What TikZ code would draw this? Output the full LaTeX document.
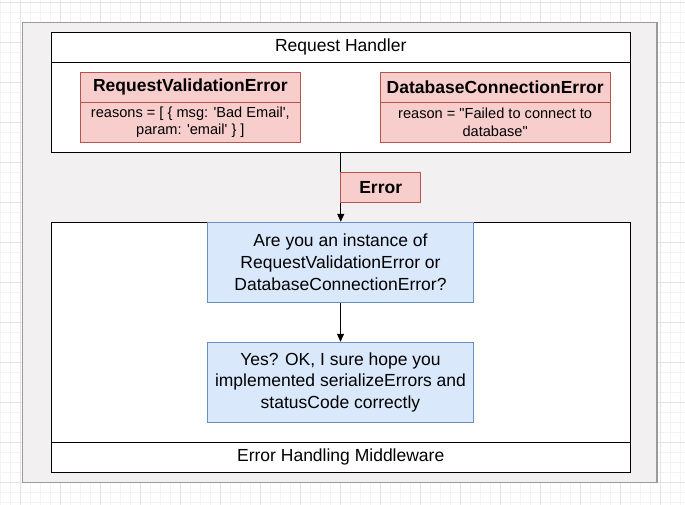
\documentclass[tikz,border=0pt]{standalone}
\usepackage{fontspec}
\setmainfont{Liberation Sans}[Ligatures=TeXOff]
\usetikzlibrary{arrows.meta}
\definecolor{redfill}{HTML}{F8CECC}
\definecolor{redline}{HTML}{B85450}
\definecolor{bluefill}{HTML}{DAE8FC}
\definecolor{blueline}{HTML}{6C8EBF}
\definecolor{panelfill}{HTML}{F2F0F1}
\definecolor{panelline}{HTML}{9B9B9B}
\definecolor{gridminor}{HTML}{F3F3F3}
\definecolor{gridmajor}{HTML}{E3E3E3}
\tikzset{
  whitebox/.style={draw=black, line width=1pt, fill=white, inner sep=0pt,
    minimum width=579.5pt, font=\fontsize{17.5}{21}\selectfont},
  redhead/.style={draw=redline, fill=redfill, line width=1pt, inner sep=0pt,
    minimum height=30pt, font=\bfseries\fontsize{17.5}{21}\selectfont},
  redbody/.style={draw=redline, fill=redfill, line width=1pt, inner sep=0pt,
    minimum height=40pt, align=center, font=\fontsize{14.6}{17.7}\selectfont},
  bluebox/.style={draw=blueline, fill=bluefill, line width=1pt, inner sep=0pt,
    minimum width=265.6pt, minimum height=80pt, align=center,
    font=\fontsize{17.5}{21.7}\selectfont},
  errlabel/.style={draw=redline, fill=redfill, line width=1pt, inner sep=0pt,
    minimum width=80pt, minimum height=30pt, font=\bfseries\fontsize{17.5}{21}\selectfont},
  flow/.style={draw=black, line width=1pt, -{Triangle[length=8pt,width=7pt]}}
}
\begin{document}
\begin{tikzpicture}[x=1pt,y=-1pt]
\useasboundingbox (0,0) rectangle (685,505);
\fill[white] (0,0) rectangle (685,505);
% grid
\foreach \x in {0,10,...,680} \draw[gridminor, line width=0.7pt] (\x,0) -- (\x,505);
\foreach \y in {2,12,...,502} \draw[gridminor, line width=0.7pt] (0,\y) -- (685,\y);
\foreach \x in {20,60,...,660} \draw[gridmajor, line width=0.8pt] (\x,0) -- (\x,505);
\foreach \y in {2,42,...,482} \draw[gridmajor, line width=0.8pt] (0,\y) -- (685,\y);
% panel
\draw[panelline, line width=1.5pt, fill=panelfill] (22.7,22.7) rectangle (657,482.3);
% request handler
\node[whitebox, minimum height=30pt] (rhhead) at (340.75,47.3) {Request Handler};
\node[whitebox, minimum height=90pt] (rhbody) at (340.75,107.3) {};
% red error classes
\node[redhead, minimum width=220.1pt] (rvhead) at (190.35,87.3) {RequestValidationError};
\node[redbody, minimum width=220.1pt] (rvbody) at (190.35,122.3) {reasons = [ \{ msg: 'Bad Email',\\ param: 'email' \} ]};
\node[redhead, minimum width=229.7pt] (dbhead) at (495.15,87.3) {DatabaseConnectionError};
\node[redbody, minimum width=229.7pt] (dbbody) at (495.15,122.3) {reason = "Failed to connect to\\ database"};
% middleware
\node[whitebox, minimum height=220pt] (mwbody) at (340.75,332.3) {};
\node[whitebox, minimum height=30pt] (mwfoot) at (340.75,457.3) {Error Handling Middleware};
% blue boxes
\node[bluebox] (q1) at (340.5,262.3) {Are you an instance of\\ RequestValidationError or\\ DatabaseConnectionError?};
\node[bluebox] (q2) at (340.5,382.3) {Yes? OK, I sure hope you\\ implemented serializeErrors and\\ statusCode correctly};
% connectors
\draw[flow] (rhbody.south) -- (rhbody.south |- q1.north);
\draw[flow] (q1.south) -- (q2.north);
\node[errlabel] (err) at (380.7,187.3) {Error};
\end{tikzpicture}
\end{document}
